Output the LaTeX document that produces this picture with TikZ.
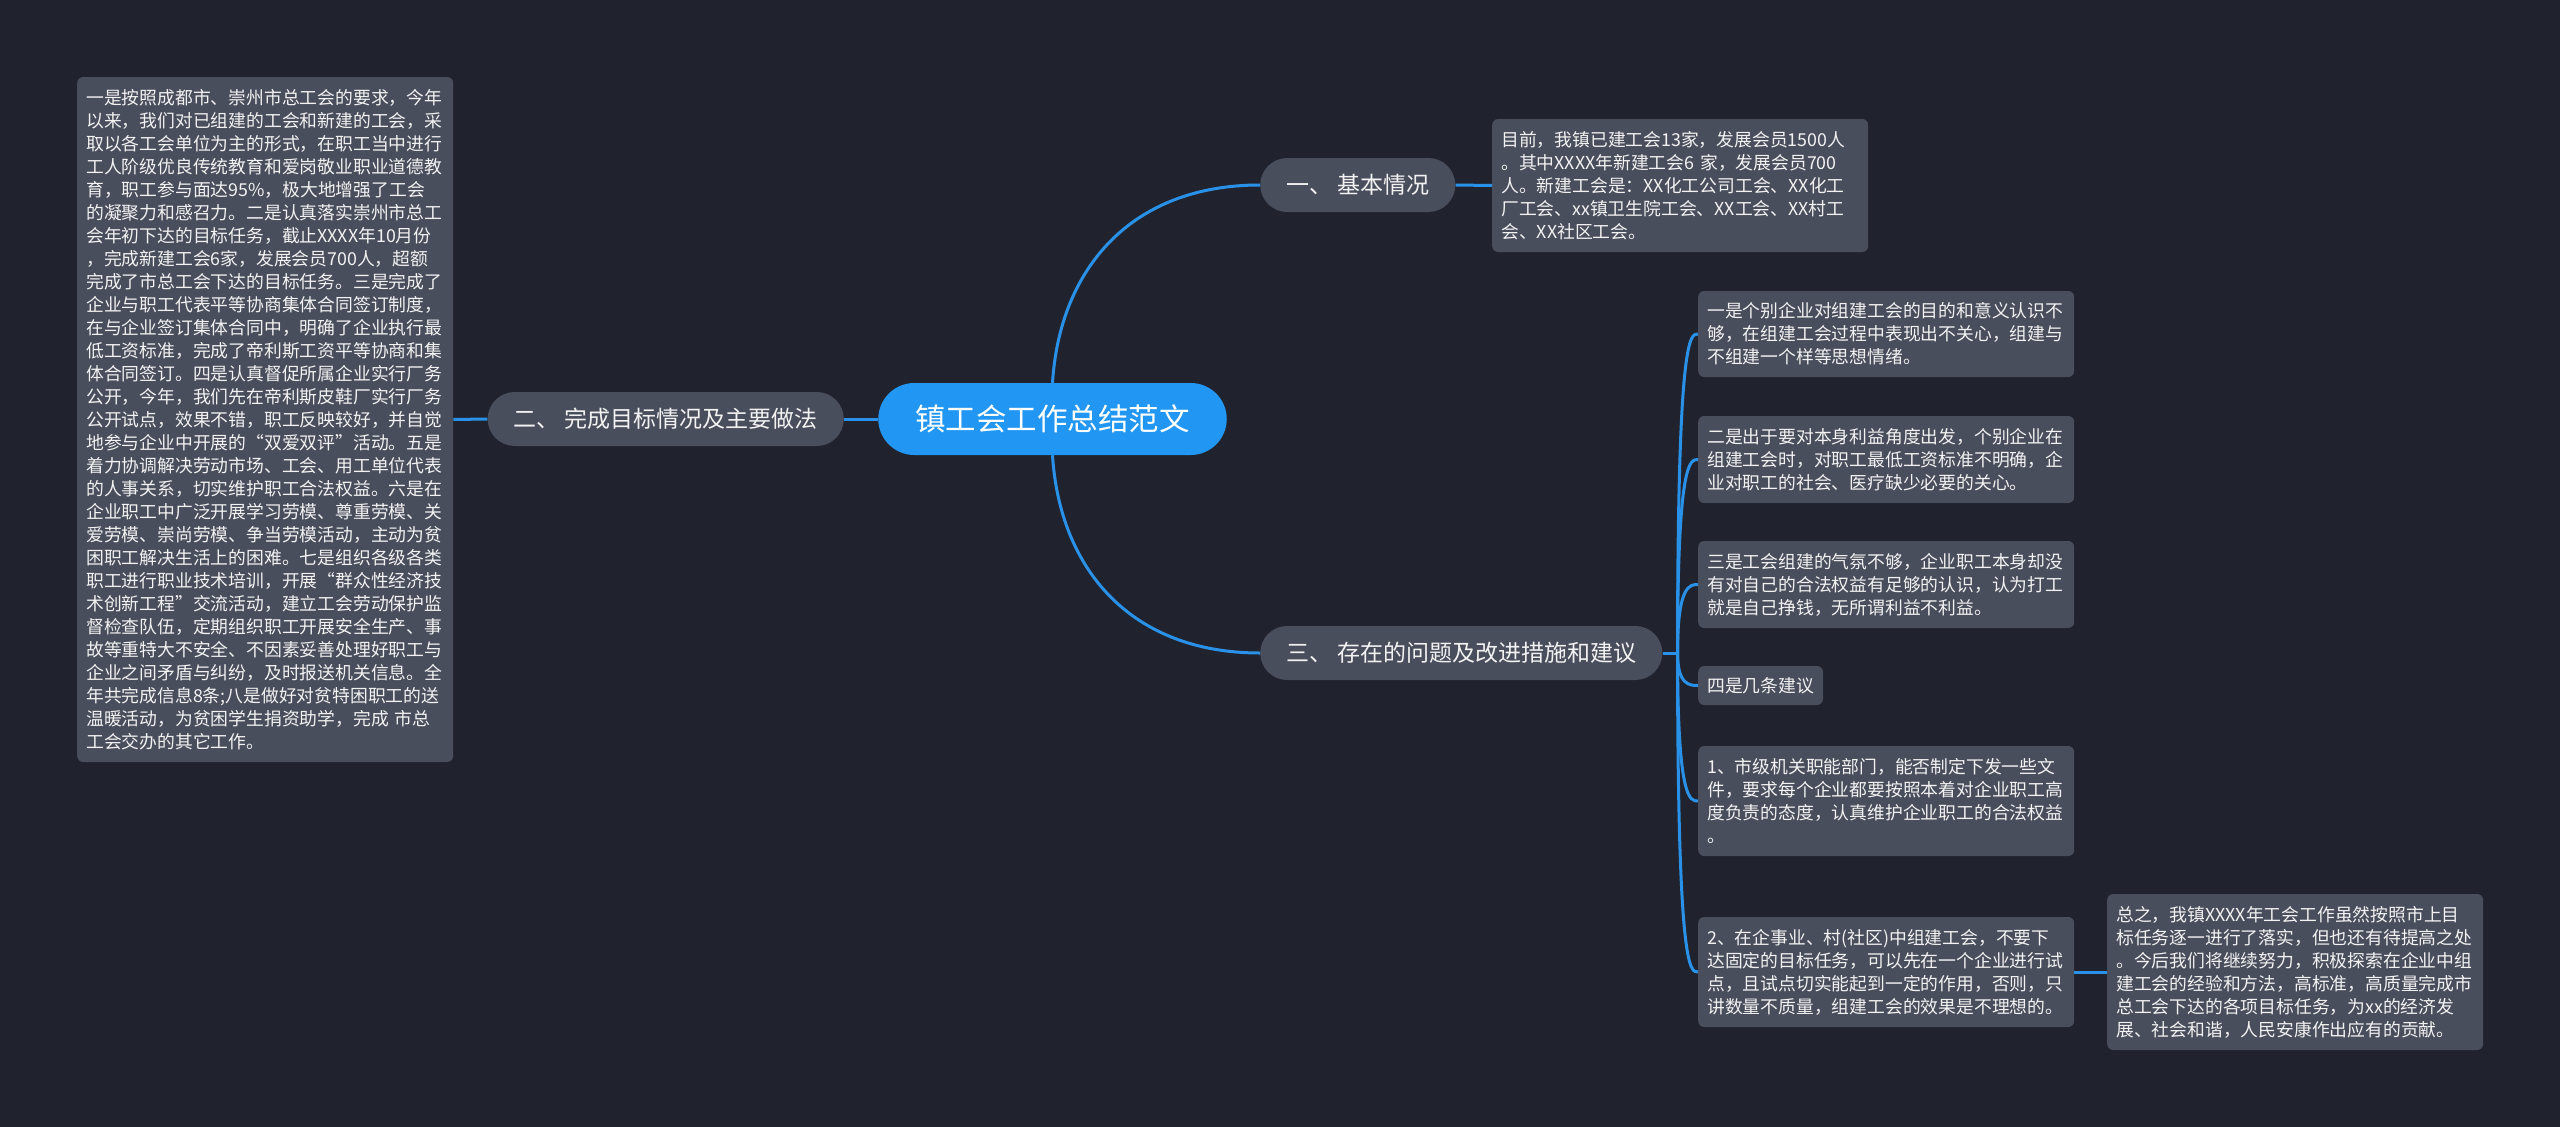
\documentclass[tikz,border=0pt]{standalone}
\usepackage{fontspec}
\newfontfamily\cjk{Noto Sans CJK SC}
\usetikzlibrary{calc}
\definecolor{bgc}{RGB}{32,35,45}
\definecolor{boxc}{RGB}{73,78,92}
\definecolor{rootc}{RGB}{33,150,243}
\definecolor{linec}{RGB}{41,146,232}
\definecolor{textc}{RGB}{242,242,242}
\begin{document}
\begin{tikzpicture}[x=1pt,y=-1pt,
  conn/.style={draw=linec, line width=3pt},
  mainnode/.style={fill=boxc, rounded corners=27pt, minimum height=54pt, inner xsep=26pt, inner ysep=0pt, text=textc, font=\cjk\fontsize{23}{28}\selectfont},
  rootnode/.style={fill=rootc, rounded corners=36pt, minimum height=72pt, inner xsep=37pt, inner ysep=0pt, text=white, font=\cjk\fontsize{30.5}{36}\selectfont},
  infobox/.style={fill=boxc, rounded corners=6pt, inner xsep=9pt, inner ysep=0pt, text=textc, align=left, font=\cjk\fontsize{17.8}{23}\selectfont},
  widebox/.style={infobox, text width=358pt}]
\useasboundingbox (0,0) rectangle (2560,1127);
\fill[bgc] (0,0) rectangle (2560,1127);

\node[rootnode] (root) at (1052.5,419) {镇工会工作总结范文};
\node[mainnode, anchor=west] (n1) at (1260,185) {一、 基本情况};
\node[mainnode, anchor=east] (n2) at (844,419) {二、 完成目标情况及主要做法};
\node[mainnode, anchor=west] (n3) at (1260,653) {三、 存在的问题及改进措施和建议};

\node[widebox, anchor=west, minimum height=133pt] (info1) at (1492,185.5) {目前，我镇已建工会13家，发展会员1500人\\。其中XXXX年新建工会6~家，发展会员700\\人。新建工会是：XX化工公司工会、XX化工\\厂工会、xx镇卫生院工会、XX工会、XX村工\\会、XX社区工会。};

\node[widebox, anchor=west, minimum height=685pt] (left) at (77,419.5) {一是按照成都市、崇州市总工会的要求，今年\\以来，我们对已组建的工会和新建的工会，采\\取以各工会单位为主的形式，在职工当中进行\\工人阶级优良传统教育和爱岗敬业职业道德教\\育，职工参与面达95\%，极大地增强了工会\\的凝聚力和感召力。二是认真落实崇州市总工\\会年初下达的目标任务，截止XXXX年10月份\\，完成新建工会6家，发展会员700人，超额\\完成了市总工会下达的目标任务。三是完成了\\企业与职工代表平等协商集体合同签订制度，\\在与企业签订集体合同中，明确了企业执行最\\低工资标准，完成了帝利斯工资平等协商和集\\体合同签订。四是认真督促所属企业实行厂务\\公开，今年，我们先在帝利斯皮鞋厂实行厂务\\公开试点，效果不错，职工反映较好，并自觉\\地参与企业中开展的“双爱双评”活动。五是\\着力协调解决劳动市场、工会、用工单位代表\\的人事关系，切实维护职工合法权益。六是在\\企业职工中广泛开展学习劳模、尊重劳模、关\\爱劳模、崇尚劳模、争当劳模活动，主动为贫\\困职工解决生活上的困难。七是组织各级各类\\职工进行职业技术培训，开展“群众性经济技\\术创新工程”交流活动，建立工会劳动保护监\\督检查队伍，定期组织职工开展安全生产、事\\故等重特大不安全、不因素妥善处理好职工与\\企业之间矛盾与纠纷，及时报送机关信息。全\\年共完成信息8条;八是做好对贫特困职工的送\\温暖活动，为贫困学生捐资助学，完成~市总\\工会交办的其它工作。};

\node[widebox, anchor=west, minimum height=86pt] (b1) at (1698,334) {一是个别企业对组建工会的目的和意义认识不\\够，在组建工会过程中表现出不关心，组建与\\不组建一个样等思想情绪。};
\node[widebox, anchor=west, minimum height=87pt] (b2) at (1698,459.5) {二是出于要对本身利益角度出发，个别企业在\\组建工会时，对职工最低工资标准不明确，企\\业对职工的社会、医疗缺少必要的关心。};
\node[widebox, anchor=west, minimum height=87pt] (b3) at (1698,584.5) {三是工会组建的气氛不够，企业职工本身却没\\有对自己的合法权益有足够的认识，认为打工\\就是自己挣钱，无所谓利益不利益。};
\node[infobox, anchor=west, minimum height=39pt] (b4) at (1698,685.5) {四是几条建议};
\node[widebox, anchor=west, minimum height=110pt] (b5) at (1698,801) {1、市级机关职能部门，能否制定下发一些文\\件，要求每个企业都要按照本着对企业职工高\\度负责的态度，认真维护企业职工的合法权益\\。};
\node[widebox, anchor=west, minimum height=110pt] (b6) at (1698,972) {2、在企事业、村(社区)中组建工会，不要下\\达固定的目标任务，可以先在一个企业进行试\\点，且试点切实能起到一定的作用，否则，只\\讲数量不质量，组建工会的效果是不理想的。};
\node[widebox, anchor=west, minimum height=156pt] (b7) at (2107,972) {总之，我镇XXXX年工会工作虽然按照市上目\\标任务逐一进行了落实，但也还有待提高之处\\。今后我们将继续努力，积极探索在企业中组\\建工会的经验和方法，高标准，高质量完成市\\总工会下达的各项目标任务，为xx的经济发\\展、社会和谐，人民安康作出应有的贡献。};

\draw[conn] (root.north) .. controls +(7,-113) and +(-130,0) .. (n1.west);
\draw[conn] (root.south) .. controls +(7,113) and +(-130,0) .. (n3.west);
\draw[conn] (root.west) -- (n2.east);
\draw[conn] (n2.west) -- (left.east);
\draw[conn] (n1.east) -- (info1.west);
\draw[conn] (n3.east) -- ++(15,0) coordinate (j3);
\foreach \c in {b1,b2,b3,b4,b5,b6}
  \draw[conn] (j3) .. controls (j3 |- \c.west) and ($(\c.west)+(-8,0)$) .. (\c.west);
\draw[conn] (b6.east) -- (b7.west);
\end{tikzpicture}
\end{document}
